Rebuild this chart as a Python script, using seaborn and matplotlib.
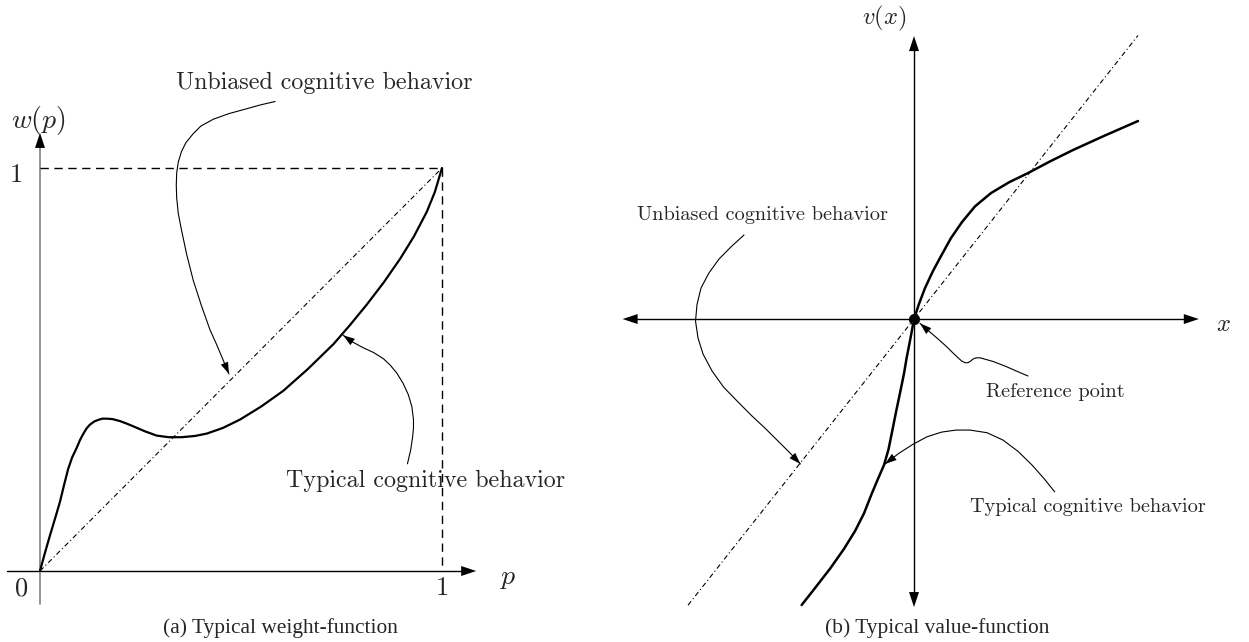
import numpy as np
import matplotlib
matplotlib.use("Agg")
import matplotlib.pyplot as plt
import seaborn as sns

# weight function (left panel), p and w(p)
weight_p = [0.0, 0.012, 0.025, 0.038, 0.050, 0.060, 0.070, 0.080, 0.091, 0.100, 0.108, 0.116,
            0.124, 0.135, 0.145, 0.155, 0.166, 0.180, 0.199, 0.215, 0.232, 0.260, 0.290, 0.320,
            0.352, 0.385, 0.415, 0.455, 0.498, 0.550, 0.605, 0.665, 0.730, 0.770, 0.812, 0.855,
            0.896, 0.930, 0.962, 0.982, 1.0]
weight_w = [0.0, 0.044, 0.089, 0.132, 0.173, 0.214, 0.253, 0.282, 0.305, 0.326, 0.341, 0.354,
            0.363, 0.371, 0.375, 0.378, 0.378, 0.377, 0.372, 0.366, 0.359, 0.347, 0.336, 0.332,
            0.332, 0.335, 0.341, 0.355, 0.376, 0.408, 0.447, 0.500, 0.563, 0.609, 0.660, 0.716,
            0.775, 0.830, 0.891, 0.940, 1.0]
unbiased_w_line = [0.0, 1.0]

# lead lines of the left annotations
lead_a1_p = [0.585, 0.550, 0.514, 0.470, 0.431, 0.400, 0.381, 0.363, 0.352, 0.344, 0.340,
             0.339, 0.340, 0.344, 0.352, 0.365, 0.381, 0.401, 0.423, 0.438, 0.452, 0.470]
lead_a1_w = [1.165, 1.157, 1.147, 1.135, 1.121, 1.104, 1.085, 1.063, 1.041, 1.015, 0.988,
             0.957, 0.926, 0.887, 0.846, 0.785, 0.722, 0.660, 0.598, 0.565, 0.532, 0.489]
lead_a2_p = [0.914, 0.922, 0.927, 0.929, 0.929, 0.925, 0.916, 0.903, 0.887, 0.871, 0.854,
             0.830, 0.804, 0.778, 0.754]
lead_a2_w = [0.266, 0.300, 0.333, 0.355, 0.376, 0.408, 0.438, 0.466, 0.492, 0.511, 0.527,
             0.542, 0.554, 0.568, 0.585]

# value function (right panel)
value_x = [-1.124, -1.0, -0.835, -0.70, -0.590, -0.50, -0.424, -0.36, -0.300, -0.255, -0.220,
           -0.18, -0.136, -0.10, -0.074, -0.035, 0.0, 0.05, 0.110, 0.19, 0.276, 0.37, 0.480,
           0.61, 0.770, 0.95, 1.140, 1.36, 1.590, 1.91, 2.240]
value_v = [-2.259, -2.135, -1.967, -1.815, -1.675, -1.535, -1.382, -1.262, -1.153, -1.03, -0.893,
           -0.735, -0.569, -0.43, -0.308, -0.15, 0.0, 0.12, 0.245, 0.38, 0.506, 0.64, 0.766,
           0.89, 0.995, 1.08, 1.153, 1.245, 1.335, 1.45, 1.564]
unbiased_v_line = [-2.26, 2.24]

lead_b1_x = [-1.70, -1.83, -1.95, -2.05, -2.13, -2.17, -2.185, -2.16, -2.11, -2.02, -1.905,
             -1.76, -1.62, -1.49, -1.37, -1.25, -1.136]
lead_b1_v = [0.664, 0.570, 0.474, 0.365, 0.245, 0.115, -0.016, -0.15, -0.276, -0.41, -0.537,
             -0.655, -0.766, -0.862, -0.956, -1.05, -1.145]
lead_b2_x = [1.407, 1.30, 1.18, 1.04, 0.89, 0.73, 0.56, 0.42, 0.276, 0.13, -0.012, -0.15, -0.29]
lead_b2_v = [-1.365, -1.26, -1.153, -1.045, -0.956, -0.898, -0.877, -0.877, -0.893, -0.93,
             -0.990, -1.06, -1.145]
lead_b3_x = [1.14, 1.03, 0.927, 0.79, 0.66, 0.62, 0.59, 0.565, 0.54, 0.51, 0.477, 0.40, 0.327,
             0.227, 0.127, 0.06]
lead_b3_v = [-0.450, -0.413, -0.377, -0.335, -0.306, -0.307, -0.316, -0.333, -0.345, -0.345,
             -0.332, -0.276, -0.219, -0.148, -0.081, -0.034]

sns.set_style("white")
plt.rcParams["font.family"] = ["cmr10", "DejaVu Serif"]
plt.rcParams["mathtext.fontset"] = "cm"
plt.rcParams["lines.scale_dashes"] = False
plt.rcParams["axes.unicode_minus"] = False

DASH = (0, (6.0, 4.0))
DASHDOT = (0, (3.6, 2.0, 0.8, 2.0))


def line(ax, x, y, lw=0.8, color="black", ls="-"):
    sns.lineplot(x=x, y=y, ax=ax, sort=False, estimator=None, color=color,
                 lw=lw, linestyle=ls, legend=False, solid_joinstyle="round")


def head(ax, tail, tip, size=14):
    ax.annotate("", xy=tip, xytext=tail,
                arrowprops=dict(arrowstyle="-|>,head_length=0.6,head_width=0.2",
                                mutation_scale=size, lw=0, color="black",
                                shrinkA=0, shrinkB=0))


fig = plt.figure(figsize=(12.49, 6.42), dpi=100)
axL = fig.add_axes([0, 0, 0.48, 1])
axR = fig.add_axes([0.48, 0, 0.52, 1])

# ---- (a) weight function
axL.set_xlim(-0.0995, 1.3918)
axL.set_ylim(-0.1762, 1.4169)
axL.axis("off")

line(axL, [-0.082, 1.06], [0, 0], lw=1.0)
head(axL, (1.0, 0), (1.085, 0), size=18)
line(axL, [0, 0], [-0.082, 1.06], lw=1.2, color="#808080")
head(axL, (0, 1.0), (0, 1.087), size=18)

line(axL, [0, 1], [1, 1], lw=1.0, ls=DASH)
line(axL, [1, 1], [1, 0], lw=1.0, ls=DASH)
line(axL, unbiased_w_line, unbiased_w_line, lw=0.8, ls=DASHDOT)
line(axL, weight_p, weight_w, lw=1.6)

line(axL, lead_a1_p, lead_a1_w, lw=0.8)
head(axL, (lead_a1_p[-2], lead_a1_w[-2]), (lead_a1_p[-1], lead_a1_w[-1]))
line(axL, lead_a2_p, lead_a2_w, lw=0.8)
head(axL, (lead_a2_p[-2], lead_a2_w[-2]), (lead_a2_p[-1], lead_a2_w[-1]))

axL.text(0.706, 1.196, "Unbiased cognitive behavior", fontsize=17.3, ha="center", va="baseline")
axL.text(0.958, 0.208, "Typical cognitive behavior", fontsize=17.3, ha="center", va="baseline")
axL.text(-0.004, 1.119, r"$w(p)$", fontsize=20, ha="center", va="center")
axL.text(1.164, -0.017, r"$p$", fontsize=20, ha="center", va="center")
axL.text(-0.06, 0.983, "1", fontsize=19, ha="center", va="center")
axL.text(-0.047, -0.043, "0", fontsize=19, ha="center", va="center")
axL.text(1.0, -0.043, "1", fontsize=19, ha="center", va="center")
axL.text(0.597, -0.154, "(a) Typical weight-function", fontsize=15.4, ha="center",
         va="baseline", family="Liberation Serif")

# ---- (b) value function
axR.set_xlim(-3.145, 3.35)
axR.set_ylim(-2.551, 2.520)
axR.axis("off")

line(axR, [-2.86, 2.79], [0, 0], lw=1.0)
head(axR, (-2.7, 0), (-2.914, 0), size=18)
head(axR, (2.7, 0), (2.848, 0), size=18)
line(axR, [0, 0], [-2.23, 2.19], lw=1.0)
head(axR, (0, 2.1), (0, 2.235), size=18)
head(axR, (0, -2.1), (0, -2.275), size=18)

line(axR, unbiased_v_line, unbiased_v_line, lw=0.8, ls=DASHDOT)
line(axR, value_x, value_v, lw=1.8)
sns.scatterplot(x=[0], y=[0], ax=axR, s=55, color="black", edgecolor="black", zorder=5)

line(axR, lead_b1_x, lead_b1_v, lw=0.8)
head(axR, (lead_b1_x[-2], lead_b1_v[-2]), (lead_b1_x[-1], lead_b1_v[-1]))
line(axR, lead_b2_x, lead_b2_v, lw=0.8)
head(axR, (lead_b2_x[-2], lead_b2_v[-2]), (lead_b2_x[-1], lead_b2_v[-1]))
line(axR, lead_b3_x, lead_b3_v, lw=0.8)
head(axR, (lead_b3_x[-2], lead_b3_v[-2]), (lead_b3_x[-1], lead_b3_v[-1]))

axR.text(-1.515, 0.782, "Unbiased cognitive behavior", fontsize=14.6, ha="center", va="baseline")
axR.text(1.74, -1.524, "Typical cognitive behavior", fontsize=14.6, ha="center", va="baseline")
axR.text(1.415, -0.616, "Reference point", fontsize=14.6, ha="center", va="baseline")
axR.text(-0.30, 2.374, r"$v(x)$", fontsize=17.6, ha="center", va="center")
axR.text(3.095, -0.047, r"$x$", fontsize=17.6, ha="center", va="center")
axR.text(0.23, -2.48, "(b) Typical value-function", fontsize=15.4, ha="center",
         va="baseline", family="Liberation Serif")

fig.savefig("out.png", dpi=100)
